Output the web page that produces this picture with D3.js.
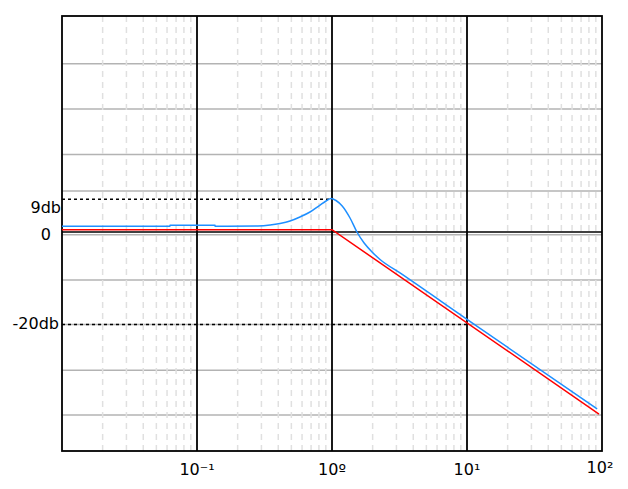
<!DOCTYPE html>
<html>
<head>
<meta charset="utf-8">
<script src="https://cdn.jsdelivr.net/npm/d3@7"></script>
<style>
  body { margin: 0; background: #fff; }
  svg { display: block; font-family: "DejaVu Sans", sans-serif; }
</style>
</head>
<body>
<svg width="628" height="489"></svg>
<script>
// values (frequency in rad/s, gain in db)
var blueFreq = [0.01, 0.063, 0.0631, 0.136, 0.1361, 0.283, 0.348, 0.412, 0.489, 0.579, 0.687, 0.815, 0.904, 0.984, 1.07, 1.19, 1.36, 1.53, 1.73, 1.98, 2.27, 3.19, 10, 92];
var blueDb   = [1.23, 1.23, 1.45, 1.45, 1.23, 1.3, 1.5, 1.84, 2.38, 3.25, 4.33, 5.84, 6.71, 7.25, 6.82, 5.63, 3.03, 0, -2.38, -4.33, -5.95, -8.87, -18.9, -38.3];
var redFreq = [0.01, 1, 95];
var redDb   = [0.5, 0.5, -39.4];
var gridDb = [36.4, 26.6, 16.8, 8.9, -0.6, -10.4, -20, -29.9, -39.6];
var decades = [0.1, 1, 10];
var tickFreq = [0.1, 1, 10, 100];
var tickText = ["10\u207b\u00b9", "10\u00ba", "10\u00b9", "10\u00b2"];
var peakDb = 7.1, refDb = -20;
var yLabels = [{db: 7.1, t: "9db", dy: 14}, {db: 0, t: "0", dy: 8}, {db: -20, t: "-20db", dy: 5}];

var svg = d3.select("svg");
var pl = 62, pr = 602, pt = 16, pb = 451;

var x = d3.scaleLog().domain([0.01, 100]).range([pl, pr]);
var y = d3.scaleLinear().domain([-47.4, 46.75]).range([pb, pt]);

// horizontal gray grid
svg.append("g").selectAll("line").data(gridDb).enter().append("line")
  .attr("x1", pl).attr("x2", pr)
  .attr("y1", function(d) { return y(d); }).attr("y2", function(d) { return y(d); })
  .attr("stroke", "#b3b3b3").attr("stroke-width", 1.5);

// zero line
svg.append("line")
  .attr("x1", pl).attr("x2", pr).attr("y1", y(0)).attr("y2", y(0))
  .attr("stroke", "#000").attr("stroke-width", 1.5);

// minor dashed verticals
var minors = [];
[0.01, 0.1, 1, 10].forEach(function(dec) {
  for (var k = 2; k <= 9; k++) minors.push(dec * k);
});
svg.append("g").selectAll("line").data(minors).enter().append("line")
  .attr("x1", function(d) { return x(d); }).attr("x2", function(d) { return x(d); })
  .attr("y1", pt).attr("y2", pb)
  .attr("stroke", "#e0e0e0").attr("stroke-width", 1.5)
  .attr("stroke-dasharray", "6,5");

// dotted reference lines
svg.append("line")
  .attr("x1", pl).attr("x2", x(1)).attr("y1", y(peakDb)).attr("y2", y(peakDb))
  .attr("stroke", "#000").attr("stroke-width", 1.5).attr("stroke-dasharray", "3,3");
svg.append("line")
  .attr("x1", pl).attr("x2", x(10)).attr("y1", y(refDb)).attr("y2", y(refDb))
  .attr("stroke", "#000").attr("stroke-width", 1.5).attr("stroke-dasharray", "3,3");

// decade verticals
svg.append("g").selectAll("line").data(decades).enter().append("line")
  .attr("x1", function(d) { return x(d); }).attr("x2", function(d) { return x(d); })
  .attr("y1", pt).attr("y2", pb)
  .attr("stroke", "#000").attr("stroke-width", 1.8);

// frame
svg.append("rect")
  .attr("x", pl).attr("y", pt).attr("width", pr - pl).attr("height", pb - pt)
  .attr("fill", "none").attr("stroke", "#000").attr("stroke-width", 1.8);

var line = d3.line()
  .x(function(d) { return x(d[0]); })
  .y(function(d) { return y(d[1]); });

svg.append("path")
  .datum(d3.zip(redFreq, redDb))
  .attr("d", line).attr("fill", "none").attr("stroke", "#ff0000").attr("stroke-width", 1.5);

svg.append("path")
  .datum(d3.zip(blueFreq, blueDb))
  .attr("d", line.curve(d3.curveMonotoneX)).attr("fill", "none")
  .attr("stroke", "#1e8fff").attr("stroke-width", 1.5);

// x tick labels
svg.append("g").selectAll("text").data(tickFreq).enter().append("text")
  .attr("x", function(d) { return x(d) - (d == 100 ? 2 : 0); })
  .attr("y", function(d) { return d == 100 ? 473 : 475; })
  .attr("text-anchor", "middle")
  .attr("font-size", 16)
  .text(function(d, i) { return tickText[i]; });

// y labels
svg.append("g").selectAll("text").data(yLabels).enter().append("text")
  .attr("x", function(d) { return d.t == "0" ? 51 : (d.t == "9db" ? 61 : 59); })
  .attr("y", function(d) { return y(d.db) + d.dy; })
  .attr("text-anchor", "end")
  .attr("font-size", 16)
  .text(function(d) { return d.t; });
</script>
</body>
</html>
